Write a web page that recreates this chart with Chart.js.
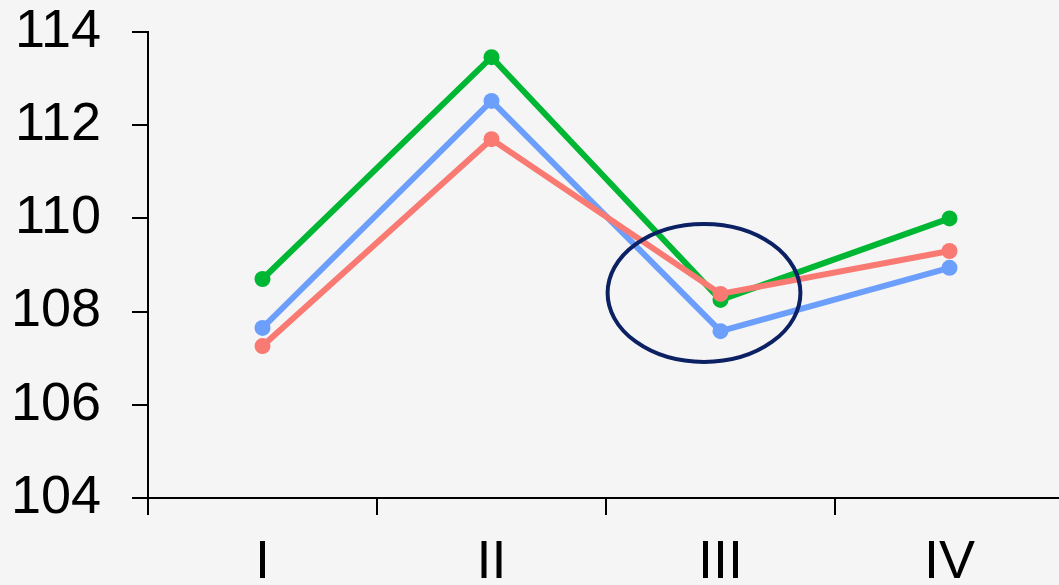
<!DOCTYPE html>
<html>
<head>
<meta charset="utf-8">
<script src="https://cdn.jsdelivr.net/npm/chart.js@4"></script>
<style>
  html, body { margin: 0; padding: 0; background: #f5f5f5; overflow: hidden; }
  #chart { display: block; width: 1064px; height: 585px; }
</style>
</head>
<body>
<canvas id="chart" width="1064" height="585"></canvas>
<script>
const quarters = ['I', 'II', 'III', 'IV'];
const greenSeries = [108.7, 113.46, 108.25, 110.0];
const blueSeries = [107.65, 112.52, 107.58, 108.94];
const redSeries = [107.26, 111.7, 108.38, 109.3];
const yTicks = [104, 106, 108, 110, 112, 114];

const labelFont = { family: 'Liberation Sans, Arial', size: 54 };

// circle around the III dip
const ellipsePlugin = {
  id: 'ellipse',
  afterDatasetsDraw(chart) {
    const { ctx, scales: { x, y } } = chart;
    const step = x.getPixelForValue(1) - x.getPixelForValue(0);
    const cx = x.getPixelForValue(2) - step * 0.072;
    const cy = y.getPixelForValue(108.4);
    const rx = step * 0.421;
    const ry = y.getPixelForValue(106.92) - cy;
    ctx.save();
    ctx.beginPath();
    ctx.ellipse(cx, cy, rx, ry, 0, 0, Math.PI * 2);
    ctx.lineWidth = 4;
    ctx.strokeStyle = '#0c2163';
    ctx.stroke();
    ctx.restore();
  }
};

function line(data, color) {
  return {
    data: data,
    borderColor: color,
    backgroundColor: color,
    borderWidth: 6,
    pointRadius: 8,
    pointHoverRadius: 8,
    pointBorderWidth: 0,
    tension: 0,
    fill: false
  };
}

new Chart(document.getElementById('chart'), {
  type: 'line',
  data: {
    labels: quarters,
    datasets: [
      line(redSeries, '#f87a72'),
      line(blueSeries, '#6c9ffc'),
      line(greenSeries, '#00b734')
    ]
  },
  options: {
    responsive: false,
    animation: false,
    events: [],
    layout: { autoPadding: false, padding: { top: 32, right: 0, bottom: 0, left: 0 } },
    plugins: { legend: { display: false }, tooltip: { enabled: false } },
    scales: {
      x: {
        offset: true,
        grid: { offset: true, drawOnChartArea: false, color: '#000', tickLength: 17, lineWidth: 2 },
        border: { color: '#000', width: 2 },
        ticks: { color: '#000', font: labelFont, padding: 16 },
        afterFit(scale) {
          scale.height = 87;
          scale.paddingLeft = 0;
          scale.paddingRight = 0;
        }
      },
      y: {
        min: 104,
        max: 114,
        afterBuildTicks(scale) { scale.ticks = yTicks.map(v => ({ value: v })); },
        grid: { drawOnChartArea: false, color: '#000', tickLength: 16, lineWidth: 2 },
        border: { color: '#000', width: 2 },
        ticks: { color: '#000', font: labelFont, padding: 31 },
        afterFit(scale) {
          scale.width = 148;
          scale.paddingTop = 0;
          scale.paddingBottom = 0;
        }
      }
    }
  },
  plugins: [ellipsePlugin]
});
</script>
</body>
</html>
